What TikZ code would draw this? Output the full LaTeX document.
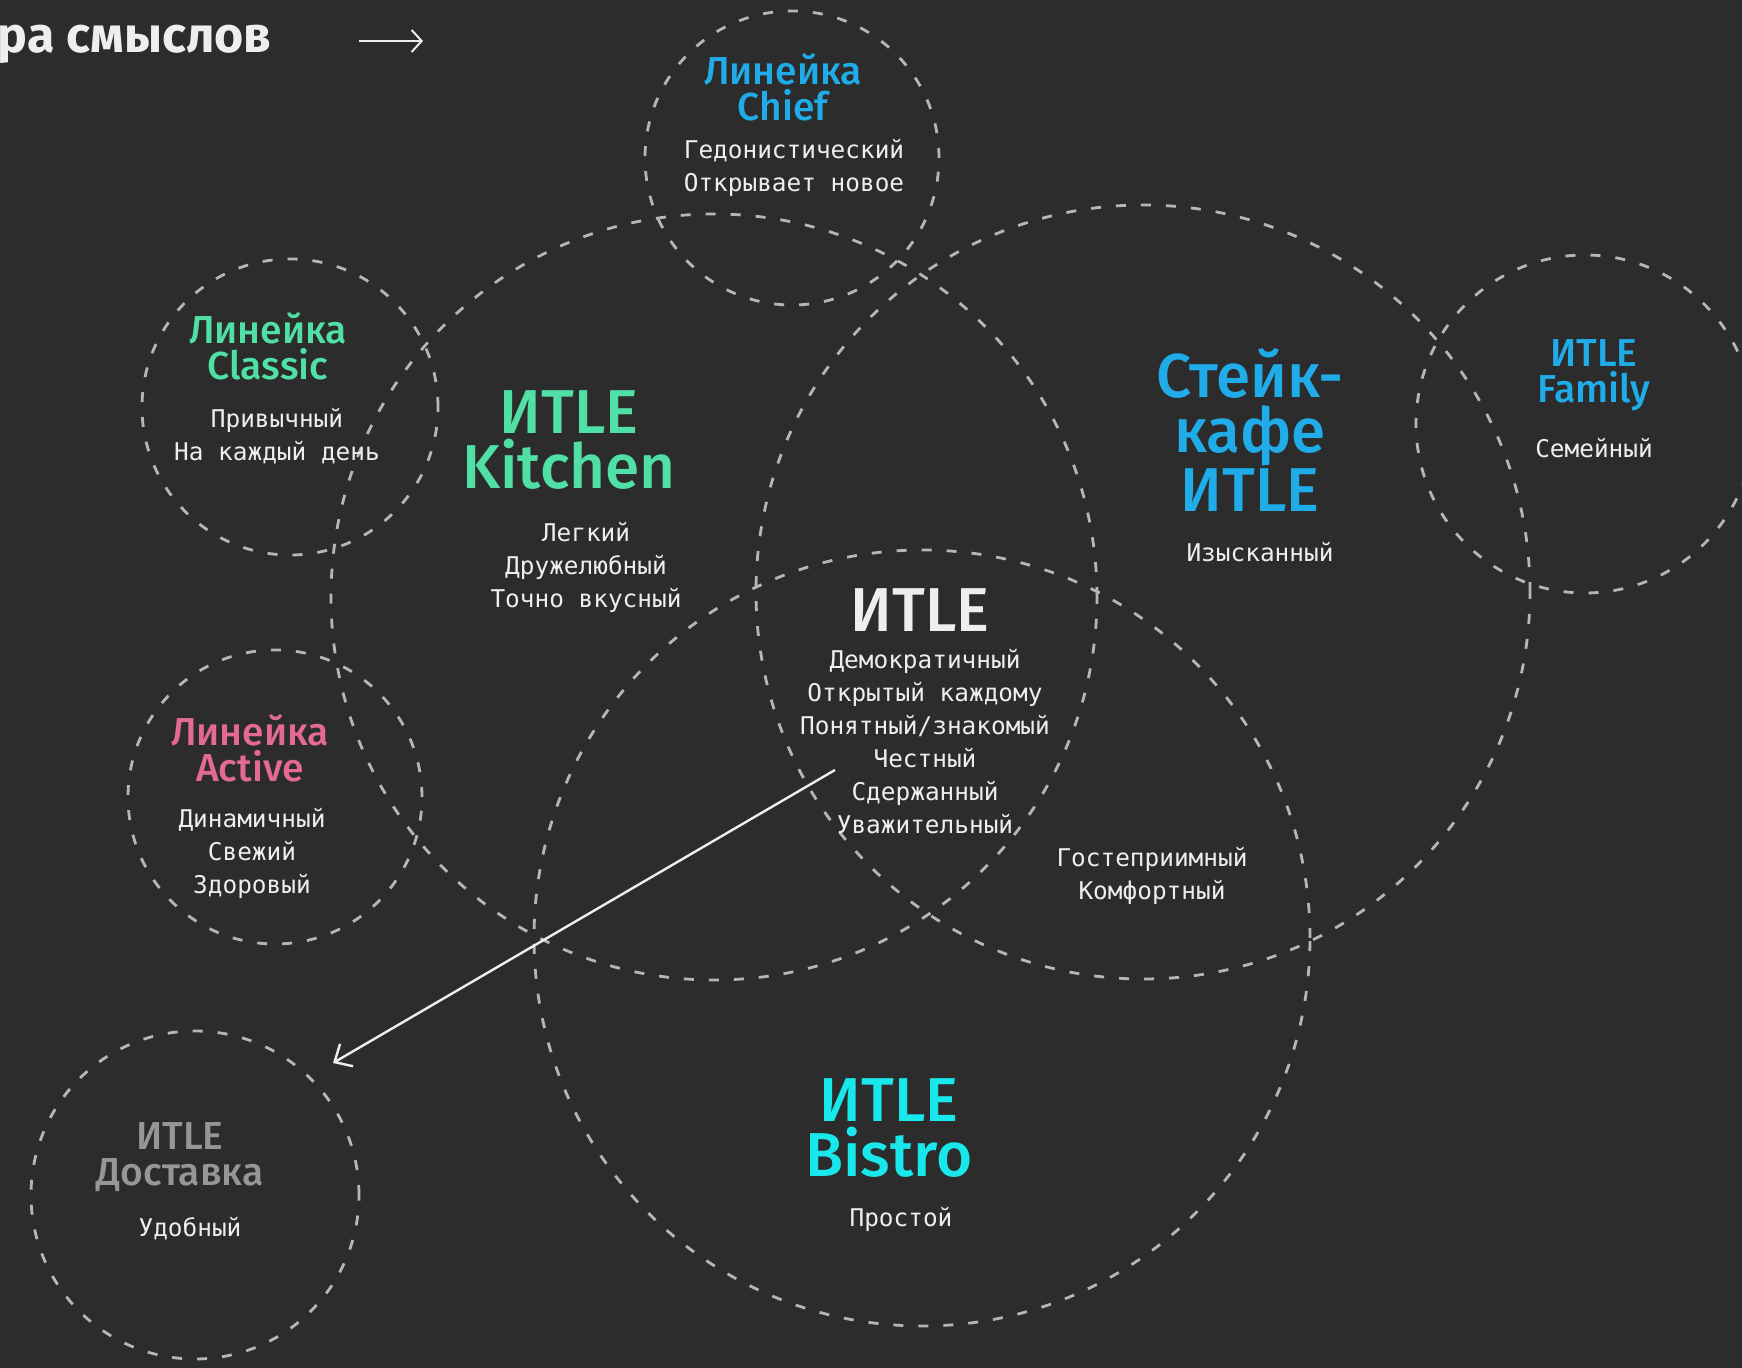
\documentclass[tikz,border=0pt]{standalone}
\usepackage{fontspec}
\setmainfont{Fira Sans}
\newfontfamily\headfont{Fira Sans Medium}
\newfontfamily\notefont{DejaVu Sans Mono}
\usetikzlibrary{arrows.meta}

\definecolor{board}{RGB}{44,44,44}
\definecolor{ringgray}{RGB}{182,182,182}
\definecolor{chalk}{RGB}{238,238,238}
\definecolor{mint}{RGB}{80,224,166}
\definecolor{skyblue}{RGB}{32,172,232}
\definecolor{aqua}{RGB}{24,232,236}
\definecolor{rose}{RGB}{228,106,146}
\definecolor{ash}{RGB}{150,150,150}

\begin{document}
\begin{tikzpicture}[x=0.5pt,y=-0.5pt,
    % radius of a ring given in units of 0.5pt
    ring/.style={circle,draw=ringgray,line width=1.4pt,
      dash pattern=on 5pt off 7.5pt,minimum size=#1*1pt},
    bigtitle/.style={font=\headfont\fontsize{31}{27.5}\selectfont,align=center},
    smalltitle/.style={font=\headfont\fontsize{19.5}{18}\selectfont,align=center},
    note/.style={text=chalk,font=\notefont\fontsize{12.2}{16.5}\selectfont,align=center},
    pointer/.style={draw=chalk,line width=1.2pt,-{Straight Barb[length=7pt,width=13pt]}}]

  \clip (0,0) rectangle (1742,1368);
  \fill[board] (0,0) rectangle (1742,1368);

  % big rings
  \node[ring=383] (kitchenring) at (714,597) {};
  \node[ring=387] (steakring) at (1143,592) {};
  \node[ring=388] (bistroring) at (922,938) {};

  % small rings
  \node[ring=147] (chiefring) at (792,158) {};
  \node[ring=148] (classicring) at (290,407) {};
  \node[ring=147] (activering) at (275,797) {};
  \node[ring=164] (deliveryring) at (195,1195) {};
  \node[ring=169] (familyring) at (1585,424) {};

  % heading
  \node[anchor=base east,inner sep=0pt,text=chalk,font=\bfseries\fontsize{25}{28}\selectfont]
    (heading) at (272,53) {ра смыслов};
  \coordinate (headfrom) at (359,41);
  \coordinate (headto) at (423,41);
  \draw[draw=chalk,line width=1pt,-{Straight Barb[length=5pt,width=11pt]}] (headfrom) -- (headto);

  \node[smalltitle,text=skyblue] (chieftitle) at (783,87) {Линейка\\Chief};
  \node[note] (chiefnote) at (794,168) {Гедонистический\\Открывает новое};

  \node[smalltitle,text=mint] (classictitle) at (268,346) {Линейка\\Classic};
  \node[note] (classicnote) at (277,436) {Привычный\\На каждый день};

  \node[bigtitle,text=mint] (kitchentitle) at (569,440) {ИTLE\\Kitchen};
  \node[note] (kitchennote) at (586,567) {Легкий\\Дружелюбный\\Точно вкусный};

  \node[bigtitle,text=skyblue] (steaktitle) at (1250,430) {Стейк-\\кафе\\ИTLE};
  \node[note] (steaknote) at (1260,552) {Изысканный};

  \node[smalltitle,text=skyblue] (familytitle) at (1594,375) {ИTLE\\Family};
  \node[note] (familynote) at (1594,448) {Семейный};

  \node[bigtitle,text=chalk] (coretitle) at (920,610) {ИTLE};
  \node[note] (corenote) at (925,742)
    {Демократичный\\Открытый каждому\\Понятный/знакомый\\Честный\\Сдержанный\\Уважительный};

  \node[note] (sharednote) at (1152,876) {Гостеприимный\\Комфортный};

  \node[smalltitle,text=rose] (activetitle) at (250,748) {Линейка\\Active};
  \node[note] (activenote) at (252,853) {Динамичный\\Свежий\\Здоровый};

  \node[smalltitle,text=ash] (deliverytitle) at (180,1157) {ИTLE\\Доставка};
  \node[note] (deliverynote) at (190,1229) {Удобный};

  \node[bigtitle,text=aqua] (bistrotitle) at (889,1128) {ИTLE\\Bistro};
  \node[note] (bistronote) at (901,1219) {Простой};

  % arrow towards delivery
  \coordinate (pointfrom) at (835,770);
  \coordinate (pointto) at (333,1063);
  \draw[pointer] (pointfrom) -- (pointto);
\end{tikzpicture}
\end{document}
